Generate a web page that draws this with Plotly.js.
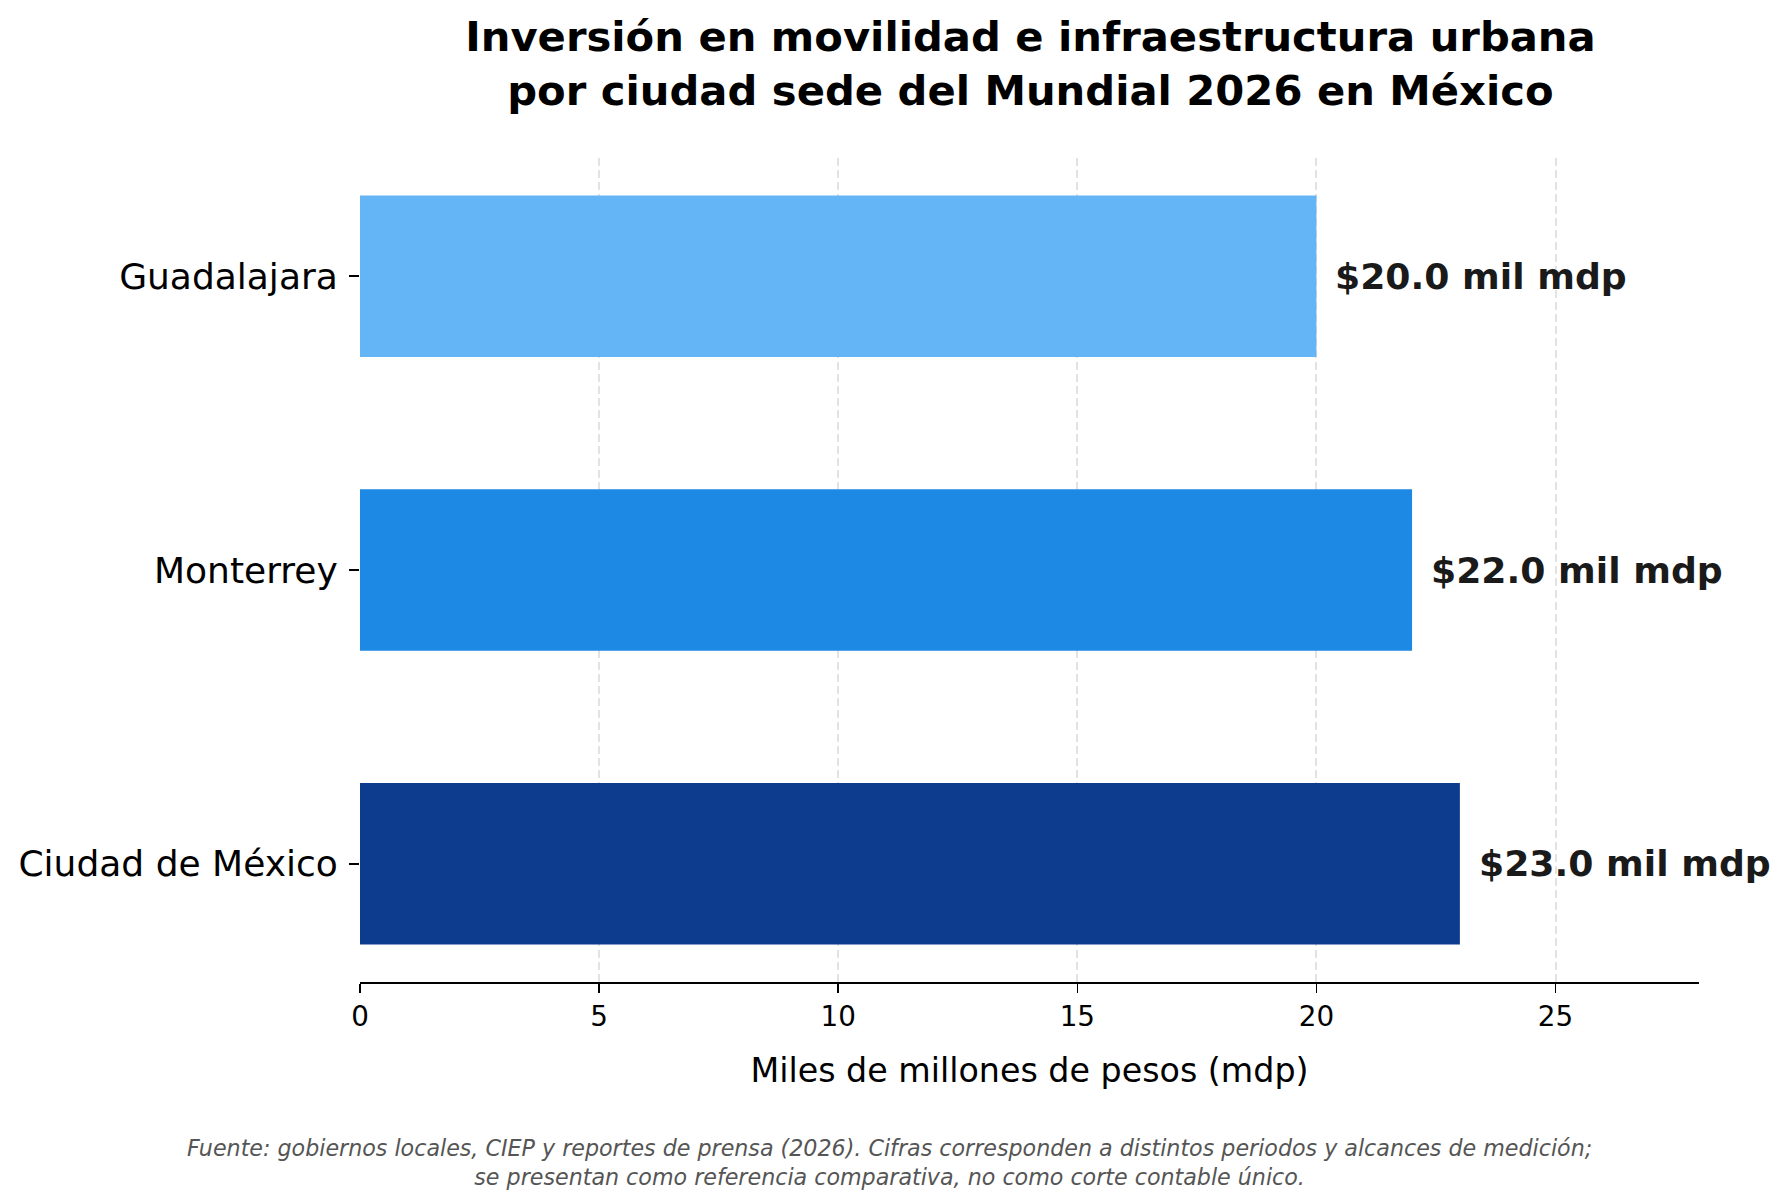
<!DOCTYPE html>
<html>
<head>
<meta charset="utf-8">
<script src="https://cdn.plot.ly/plotly-3.0.1.min.js"></script>
<style>
  html, body { margin: 0; padding: 0; background: #fff; }
  #grafico { width: 1789px; height: 1202px; }
</style>
</head>
<body>
<div id="grafico"></div>
<script>
// Datos
const ciudades = ["Ciudad de México", "Monterrey", "Guadalajara"];
const inversion = [23.0, 22.0, 20.0];
const colores = ["#0D3C8E", "#1E88E5", "#64B5F6"];
const xTicks = [0, 5, 10, 15, 20, 25];

const fuente = "Fuente: gobiernos locales, CIEP y reportes de prensa (2026). Cifras corresponden a distintos periodos y alcances de medición;" +
    "<br>se presentan como referencia comparativa, no como corte contable único.";

//// Barras
var barras = {
    type: 'bar',
    orientation: 'h',
    x: inversion,
    y: ciudades,
    marker: {color: colores, line: {width: 0}},
    hoverinfo: 'none'
};

//// Etiquetas de valor
var etiquetas = ciudades.map((c, i) => ({
    x: inversion[i],
    y: c,
    xref: 'x',
    yref: 'y',
    text: '$' + inversion[i].toFixed(1) + ' mil mdp',
    showarrow: false,
    xanchor: 'left',
    yanchor: 'middle',
    xshift: 17,
    font: {family: 'DejaVu Sans', size: 36.2, color: '#1a1a1a', weight: 'bold'}
}));

//// Nota de fuente
etiquetas.push({
    x: 0.3955,
    y: -0.219,
    xref: 'paper',
    yref: 'paper',
    text: '<i>' + fuente + '</i>',
    showarrow: false,
    xanchor: 'center',
    yanchor: 'middle',
    align: 'center',
    font: {family: 'DejaVu Sans', size: 22.2, color: '#555555'}
});

var layout = {
    width: 1789,
    height: 1202,
    margin: {l: 360, r: 89.5, t: 158, b: 220},
    paper_bgcolor: '#ffffff',
    plot_bgcolor: '#ffffff',
    font: {family: 'DejaVu Sans', color: '#000000'},
    showlegend: false,
    bargap: 0.45,
    title: {
        text: '<b>Inversión en movilidad e infraestructura urbana<br>por ciudad sede del Mundial 2026 en México</b>',
        font: {family: 'DejaVu Sans', size: 41.7, color: '#000000'},
        x: 0.576,
        xanchor: 'center',
        xref: 'container',
        y: 1 - 51 / 1202,
        yref: 'container',
        yanchor: 'top'
    },
    xaxis: {
        range: [0, 28],
        tickvals: xTicks,
        ticktext: xTicks.map(String),
        tickfont: {size: 27.8, color: '#000000'},
        ticks: 'outside',
        ticklen: 9,
        tickwidth: 1.5,
        tickcolor: '#000000',
        showline: true,
        linecolor: '#000000',
        linewidth: 2,
        showgrid: true,
        gridcolor: '#e3e3e3',
        gridwidth: 2,
        griddash: '8px,4px',
        zeroline: false,
        title: {
            text: 'Miles de millones de pesos (mdp)',
            font: {size: 33.3, color: '#000000'},
            standoff: 26
        }
    },
    yaxis: {
        type: 'category',
        range: [-0.4025, 2.4025],
        tickfont: {size: 36, color: '#000000'},
        ticks: 'outside',
        ticklen: 10,
        tickwidth: 1.5,
        tickcolor: '#000000',
        ticklabelstandoff: 4,
        showline: false,
        showgrid: false,
        zeroline: false
    },
    annotations: etiquetas
};

Plotly.newPlot('grafico', [barras], layout, {displayModeBar: false, staticPlot: true});
</script>
</body>
</html>
